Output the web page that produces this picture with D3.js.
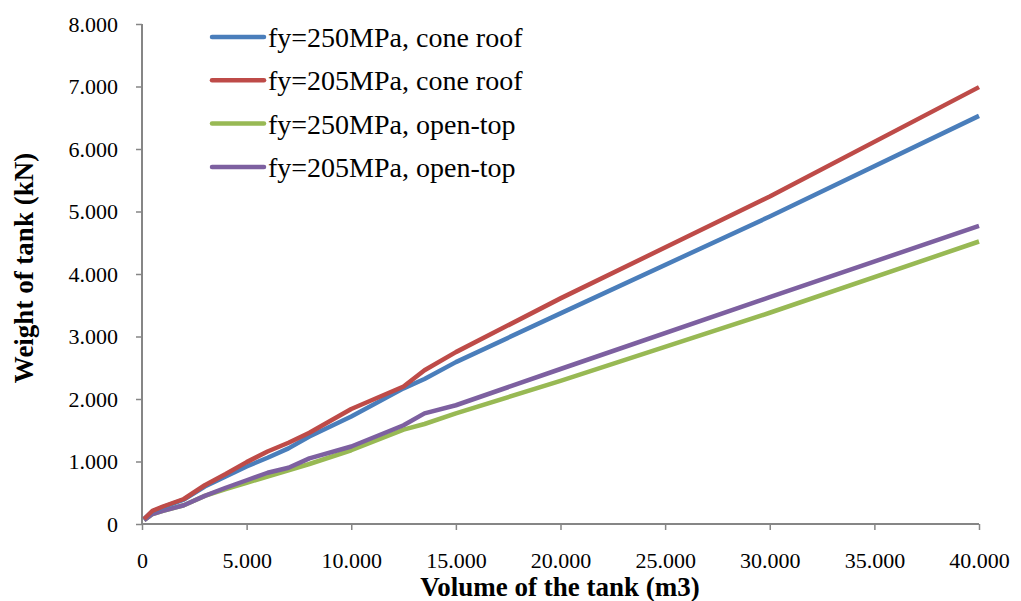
<!DOCTYPE html>
<html>
<head>
<meta charset="utf-8">
<script src="https://cdn.jsdelivr.net/npm/d3@7"></script>
<style>
  body { margin: 0; background: #fff; }
  svg { display: block; font-family: "Liberation Serif", "Times New Roman", serif; }
</style>
</head>
<body>
<svg id="chart" width="1021" height="601"></svg>
<script>
// ---- data ----
const volumes = [100, 500, 1000, 2000, 3000, 4000, 5000, 6000, 7000, 8000, 10000, 12500, 13500, 15000, 20000, 30000, 40000];
const cone250 = [80, 200, 270, 390, 600, 760, 920, 1060, 1210, 1400, 1720, 2170, 2320, 2590, 3370, 4920, 6530];
const cone205 = [80, 210, 280, 400, 620, 800, 990, 1160, 1300, 1460, 1840, 2200, 2460, 2750, 3610, 5240, 6990];
const open250 = [60, 160, 210, 300, 450, 560, 660, 760, 860, 960, 1180, 1510, 1600, 1770, 2290, 3380, 4520];
const open205 = [60, 160, 210, 300, 450, 580, 700, 820, 900, 1050, 1240, 1580, 1770, 1900, 2480, 3630, 4770];
const seriesNames = ["fy=250MPa, cone roof", "fy=205MPa, cone roof", "fy=250MPa, open-top", "fy=205MPa, open-top"];
const seriesColors = ["#4A7EBB", "#BE4B48", "#98B954", "#7D60A0"];
const xTicks = [0, 5000, 10000, 15000, 20000, 25000, 30000, 35000, 40000];
const yTicks = [0, 1000, 2000, 3000, 4000, 5000, 6000, 7000, 8000];
const xTitle = "Volume of the tank (m3)";
const yTitle = "Weight of tank (kN)";

const allSeries = [cone250, cone205, open250, open205];

// ---- layout ----
const svg = d3.select("#chart");
const x = d3.scaleLinear().domain([0, 40000]).range([142, 979]);
const y = d3.scaleLinear().domain([0, 8000]).range([524, 24]);

const fmtDot = v => v === 0 ? "0" : (v / 1000).toFixed(3);
const axisColor = "#868686";

// y axis
const yAxis = svg.append("g").attr("transform", "translate(142,0)")
  .call(d3.axisLeft(y).tickValues(yTicks).tickSize(6).tickPadding(18).tickFormat(fmtDot));
yAxis.select(".domain").attr("stroke", axisColor).attr("stroke-width", 2).attr("d", "M0,24V524");
yAxis.selectAll(".tick line").attr("stroke", axisColor).attr("stroke-width", 1.5);
yAxis.selectAll("text").attr("fill", "#000").style("font-size", "22px").style("font-family", "Liberation Serif");

// x axis
const xAxis = svg.append("g").attr("transform", "translate(0,524)")
  .call(d3.axisBottom(x).tickValues(xTicks).tickSize(6).tickPadding(22).tickFormat(fmtDot));
xAxis.select(".domain").attr("stroke", axisColor).attr("stroke-width", 2).attr("d", "M142,0H979");
xAxis.selectAll(".tick line").attr("stroke", axisColor).attr("stroke-width", 1.5);
xAxis.selectAll("text").attr("fill", "#000").style("font-size", "22px").style("font-family", "Liberation Serif");

// lines
const line = d3.line().x((d, i) => x(volumes[i])).y(d => y(d));
const drawOrder = [2, 3, 0, 1];
drawOrder.forEach(k => {
  svg.append("path")
    .datum(allSeries[k])
    .attr("fill", "none")
    .attr("stroke", seriesColors[k])
    .attr("stroke-width", 4.5)
    .attr("stroke-linejoin", "round")
    .attr("d", line);
});

// legend
const legend = svg.append("g");
seriesNames.forEach((name, i) => {
  const cy = 37 + i * 43.3;
  legend.append("line")
    .attr("x1", 212).attr("x2", 264).attr("y1", cy).attr("y2", cy)
    .attr("stroke", seriesColors[i]).attr("stroke-width", 4.5).attr("stroke-linecap", "round");
  legend.append("text")
    .attr("x", 268).attr("y", cy + 10)
    .style("font-size", "28px")
    .text(name);
});

// axis titles
svg.append("text")
  .attr("x", 560).attr("y", 596)
  .attr("text-anchor", "middle")
  .style("font-size", "27px").style("font-weight", "bold")
  .text(xTitle);
svg.append("text")
  .attr("transform", "translate(33,268) rotate(-90)")
  .attr("text-anchor", "middle")
  .style("font-size", "27px").style("font-weight", "bold")
  .text(yTitle);
</script>
</body>
</html>
